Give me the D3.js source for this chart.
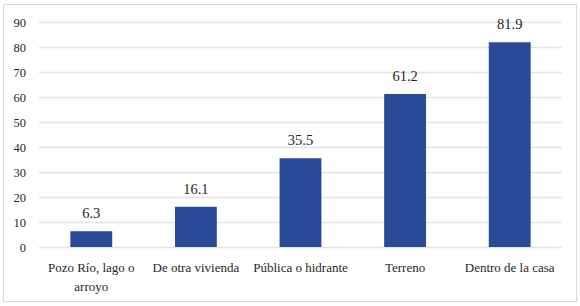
<!DOCTYPE html>
<html>
<head>
<meta charset="utf-8">
<script src="https://d3js.org/d3.v7.min.js"></script>
<style>
  body { margin: 0; background: #fff; }
  svg text, svg tspan { font-family: 'Liberation Serif' !important; }
</style>
</head>
<body>
<svg id="chart" width="580" height="306"></svg>
<script>
// chart data
var categories = ["Pozo Río, lago o arroyo", "De otra vivienda", "Pública o hidrante", "Terreno", "Dentro de la casa"];
var values = [6.3, 16.1, 35.5, 61.2, 81.9];
var yTicks = [0, 10, 20, 30, 40, 50, 60, 70, 80, 90];

var w = 580, h = 306;
var margin = { left: 39, right: 18, top: 22, bottom: 59 };

var svg = d3.select("#chart");

// outer frame
svg.append("rect")
  .attr("x", 3.5).attr("y", 4.5)
  .attr("width", 573).attr("height", 297)
  .attr("fill", "#fff")
  .attr("stroke", "#d9d9d9");

var x = d3.scaleBand()
  .domain(categories)
  .range([margin.left, w - margin.right])
  .paddingInner(0.6)
  .paddingOuter(0.3);

var y = d3.scaleLinear()
  .domain([0, 90])
  .range([h - margin.bottom, margin.top]);

// gridlines + y labels
var yAxis = svg.append("g")
  .attr("transform", "translate(" + margin.left + ",0)")
  .call(d3.axisLeft(y)
    .tickValues(yTicks)
    .tickSize(-(w - margin.left - margin.right))
    .tickPadding(13));
yAxis.attr("font-family", null).attr("font-size", 12.5);
yAxis.select(".domain").remove();
yAxis.selectAll(".tick line").attr("stroke", "#e3e3e3").attr("stroke-width", 1.3);
yAxis.selectAll(".tick text").attr("fill", "#262626");

// bars
svg.selectAll(".bar")
  .data(values)
  .enter().append("rect")
  .attr("class", "bar")
  .attr("x", function(d, i) { return x(categories[i]); })
  .attr("width", x.bandwidth())
  .attr("y", function(d) { return y(d); })
  .attr("height", function(d) { return y(0) - y(d); })
  .attr("fill", "#2a4a97");

// value labels
svg.selectAll(".val")
  .data(values)
  .enter().append("text")
  .attr("class", "val")
  .attr("x", function(d, i) { return x(categories[i]) + x.bandwidth() / 2; })
  .attr("y", function(d) { return y(d) - 13; })
  .attr("text-anchor", "middle")
  .attr("font-size", 14.5)
  .attr("fill", "#262626")
  .text(function(d) { return d.toFixed(1); });

// category labels (wrap the long first one like the original)
var lines = {
  "Pozo Río, lago o arroyo": ["Pozo Río, lago o", "arroyo"]
};
var catG = svg.selectAll(".cat")
  .data(categories)
  .enter().append("text")
  .attr("class", "cat")
  .attr("text-anchor", "middle")
  .attr("font-size", 13)
  .attr("fill", "#262626")
  .attr("x", function(d) { return x(d) + x.bandwidth() / 2; })
  .attr("y", y(0) + 25);
catG.each(function(d) {
  var parts = lines[d] || [d];
  var t = d3.select(this);
  var cx = x(d) + x.bandwidth() / 2;
  parts.forEach(function(p, i) {
    t.append("tspan").attr("x", cx).attr("dy", i === 0 ? 0 : 19).text(p);
  });
});
</script>
</body>
</html>
